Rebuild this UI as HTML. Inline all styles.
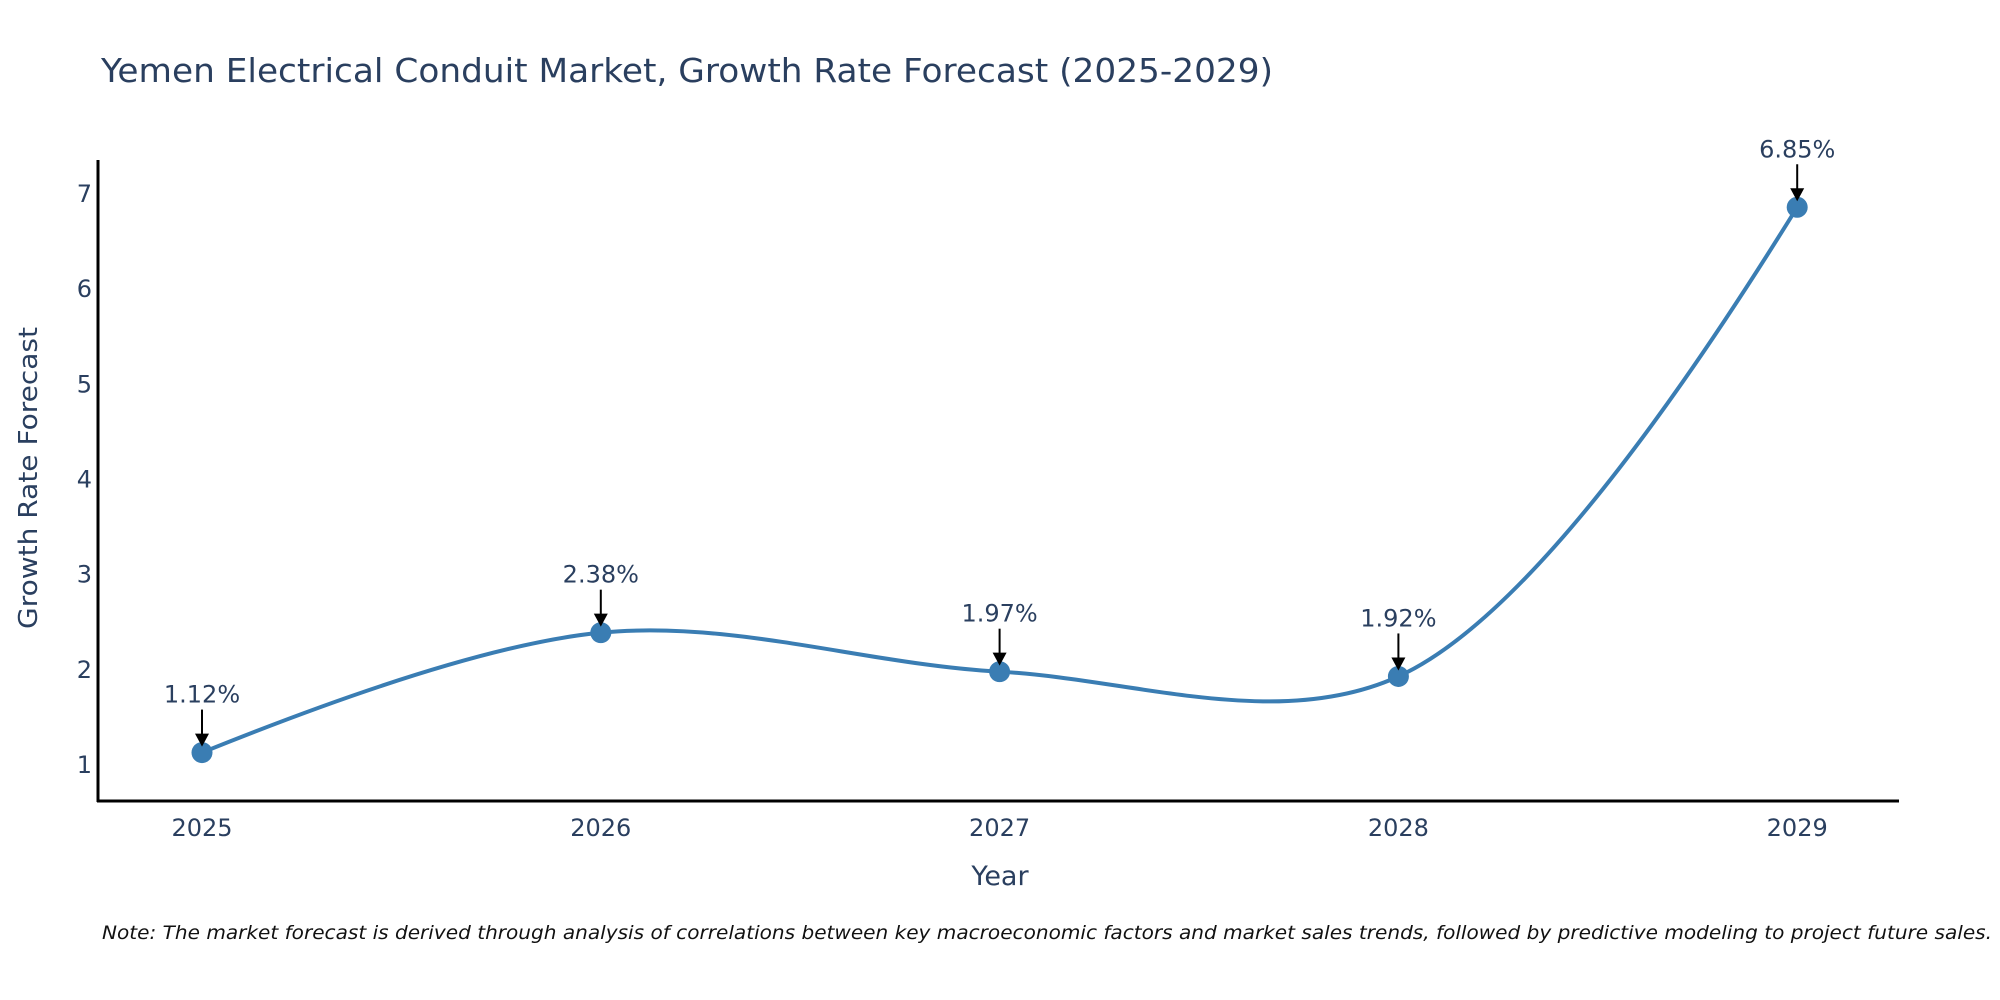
<!DOCTYPE html>
<html><head><meta charset="utf-8"><style>
html,body{margin:0;padding:0;background:#fff;}
svg{display:block;font-family:"DejaVu Sans","Liberation Sans",sans-serif;}
</style></head><body>
<svg id="chart" width="2000" height="1000" viewBox="0 0 2000 1000">
<text x="101" y="82" font-size="33" fill="#2a3f5f" textLength="1172" lengthAdjust="spacingAndGlyphs">Yemen Electrical Conduit Market, Growth Rate Forecast (2025-2029)</text>
<g id="yticks"></g>
<g id="xticks"></g>
<path id="line" fill="none" stroke="#3a7db3" stroke-width="4"/>
<g id="marks"></g>
<g id="annots"></g>
<line x1="98" y1="160" x2="98" y2="802" stroke="#000" stroke-width="3"/>
<line x1="97" y1="801" x2="1899" y2="801" stroke="#000" stroke-width="3"/>
<text transform="translate(37,478) rotate(-90)" text-anchor="middle" font-size="26" fill="#2a3f5f" textLength="302" lengthAdjust="spacingAndGlyphs">Growth Rate Forecast</text>
<text x="1000" y="885" text-anchor="middle" font-size="27" fill="#2a3f5f">Year</text>
<text x="102" y="939" font-size="19" font-style="italic" fill="#111" textLength="1890" lengthAdjust="spacingAndGlyphs">Note: The market forecast is derived through analysis of correlations between key macroeconomic factors and market sales trends, followed by predictive modeling to project future sales.</text>
</svg>
<script>
const years = [2025, 2026, 2027, 2028, 2029];
const values = [1.12, 2.38, 1.97, 1.92, 6.85];
const labels = ["1.12%", "2.38%", "1.97%", "1.92%", "6.85%"];
const yTicks = [1, 2, 3, 4, 5, 6, 7];

const NS = "http://www.w3.org/2000/svg";
const X = v => 202 + (v - 2025) * 398.8;
const Y = v => 764 - (v - 1) * 95.17;
function mk(tag, attrs, parent, txt) {
  const e = document.createElementNS(NS, tag);
  for (const k in attrs) e.setAttribute(k, attrs[k]);
  if (txt !== undefined) e.textContent = txt;
  parent.appendChild(e);
  return e;
}
const yt = document.getElementById('yticks');
yTicks.forEach(t => {
  const e = mk('text', {x: 92, y: Y(t) + 9, 'text-anchor': 'end', 'font-size': 24, fill: '#2a3f5f'}, yt, t);
  
  
});
const xt = document.getElementById('xticks');
years.forEach(t => {
  const e = mk('text', {x: X(t), y: 836, 'text-anchor': 'middle', 'font-size': 24, fill: '#2a3f5f'}, xt, t);
  
  
});
const pts = years.map((y, i) => [X(y), Y(values[i])]);
function tangent(p0, p1, p2, s) {
  const d1x = p0[0]-p1[0], d1y = p0[1]-p1[1], d2x = p2[0]-p1[0], d2y = p2[1]-p1[1];
  const d1a = Math.pow(d1x*d1x + d1y*d1y, 0.25), d2a = Math.pow(d2x*d2x + d2y*d2y, 0.25);
  const nx = (d2a*d2a*d1x - d1a*d1a*d2x)*s, ny = (d2a*d2a*d1y - d1a*d1a*d2y)*s;
  const den1 = 3*d2a*(d1a+d2a), den2 = 3*d1a*(d1a+d2a);
  return [[p1[0]+nx/den1, p1[1]+ny/den1], [p1[0]-nx/den2, p1[1]-ny/den2]];
}
const tg = [];
for (let i = 1; i < pts.length - 1; i++) tg.push(tangent(pts[i-1], pts[i], pts[i+1], 1));
let d = 'M' + pts[0] + 'Q' + tg[0][0] + ' ' + pts[1];
for (let i = 2; i < pts.length - 1; i++) d += 'C' + tg[i-2][1] + ' ' + tg[i-1][0] + ' ' + pts[i];
d += 'Q' + tg[pts.length-3][1] + ' ' + pts[pts.length-1];
document.getElementById('line').setAttribute('d', d);

const mg = document.getElementById('marks'), ag = document.getElementById('annots');
pts.forEach((p, i) => {
  const c = mk('circle', {cx: p[0], cy: p[1], r: 10.5, fill: '#3a7db3'}, mg);
  
  
  const l = mk('line', {x1: p[0], y1: p[1] - 43, x2: p[0], y2: p[1] - 18, stroke: '#000', 'stroke-width': 2}, ag);
  
  
  const h = mk('path', {d: `M${p[0]-7},${p[1]-19} L${p[0]+7},${p[1]-19} L${p[0]},${p[1]-6} Z`, fill: '#000'}, ag);
  
  
  const t = mk('text', {x: p[0], y: p[1] - 50, 'text-anchor': 'middle', 'font-size': 24, fill: '#2a3f5f'}, ag, labels[i]);
  
  
});
</script>
</body></html>
